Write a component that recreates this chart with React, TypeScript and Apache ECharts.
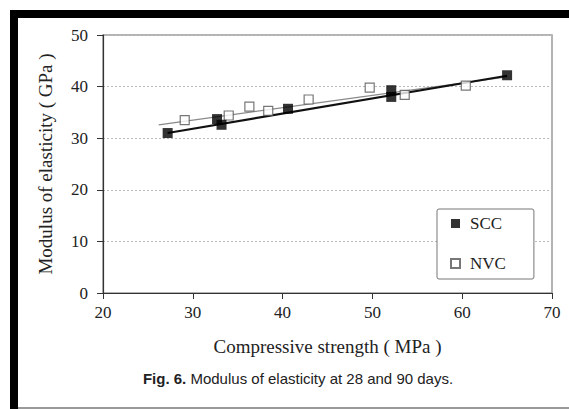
import React, { useEffect, useRef } from "react";
import * as echarts from "echarts";

const sccPoints: [number, number][] = [
  [27.2, 31.0],
  [32.7, 33.7],
  [33.2, 32.6],
  [40.6, 35.7],
  [52.1, 39.3],
  [52.1, 38.0],
  [65.0, 42.2],
];

const nvcPoints: [number, number][] = [
  [29.1, 33.5],
  [34.0, 34.4],
  [36.3, 36.1],
  [38.4, 35.3],
  [42.9, 37.5],
  [49.7, 39.8],
  [53.6, 38.4],
  [60.4, 40.2],
];

const sccTrend: [number, number][] = [
  [27.2, 31.0],
  [65.0, 42.1],
];

const nvcTrend: [number, number][] = [
  [26.2, 32.6],
  [65.0, 41.9],
];

const seriesNames = ["SCC", "NVC"];
const xAxisTitle = "Compressive strength ( MPa )";
const yAxisTitle = "Modulus of elasticity ( GPa )";
const caption = "Modulus of elasticity at 28 and 90 days.";
const captionLabel = "Fig. 6.";

const serif = "'Liberation Serif', 'DejaVu Serif', serif";
const narrow = "'Liberation Sans Narrow', 'Liberation Sans', sans-serif";

export default function App() {
  const ref = useRef<HTMLDivElement>(null);

  useEffect(() => {
    if (!ref.current) return;
    const chart = echarts.init(ref.current, null, { renderer: "svg" });
    chart.setOption({
      animation: false,
      backgroundColor: "#ffffff",
      grid: {
        left: 103,
        top: 35,
        right: 17,
        bottom: 116,
        show: true,
        borderColor: "#9a9a9a",
        borderWidth: 1.5,
        backgroundColor: "transparent",
      },
      xAxis: {
        type: "value",
        min: 20,
        max: 70,
        interval: 10,
        name: xAxisTitle,
        nameLocation: "middle",
        nameGap: 44,
        nameTextStyle: { fontFamily: serif, fontSize: 19, color: "#222" },
        axisLine: { show: true, onZero: false, lineStyle: { color: "#333", width: 1.2 } },
        axisTick: { show: true, inside: false, length: 6, lineStyle: { color: "#333" } },
        axisLabel: { margin: 11, fontFamily: serif, fontSize: 17, color: "#222" },
        splitLine: { show: false },
      },
      yAxis: {
        type: "value",
        min: 0,
        max: 50,
        interval: 10,
        name: yAxisTitle,
        nameLocation: "middle",
        nameGap: 48,
        nameTextStyle: { fontFamily: serif, fontSize: 19, color: "#222" },
        axisLine: { show: true, onZero: false, lineStyle: { color: "#333", width: 1.2 } },
        axisTick: { show: true, inside: false, length: 6, lineStyle: { color: "#333" } },
        axisLabel: { margin: 15, fontFamily: serif, fontSize: 17, color: "#222" },
        splitLine: { show: true, lineStyle: { color: "#bbbbbb", type: [2, 2], width: 1 } },
      },
      legend: {
        data: seriesNames,
        orient: "vertical",
        left: 437,
        top: 209,
        padding: [6, 28, 7, 13],
        itemGap: 23,
        itemWidth: 9,
        itemHeight: 9,
        backgroundColor: "#ffffff",
        borderColor: "#777",
        borderWidth: 1,
        borderRadius: 2,
        textStyle: { fontFamily: serif, fontSize: 17, color: "#222", padding: [0, 0, 0, 5] },
      },
      series: [
        {
          name: "SCC trend",
          type: "line",
          data: sccTrend,
          showSymbol: false,
          lineStyle: { color: "#111", width: 2.2 },
          z: 3,
        },
        {
          name: "NVC trend",
          type: "line",
          data: nvcTrend,
          showSymbol: false,
          lineStyle: { color: "#8a8a8a", width: 1.2 },
          z: 2,
        },
        {
          name: "NVC",
          type: "scatter",
          data: nvcPoints,
          symbol: "rect",
          symbolSize: 9,
          itemStyle: { color: "#ffffff", borderColor: "#555", borderWidth: 1.2 },
          z: 4,
        },
        {
          name: "SCC",
          type: "scatter",
          data: sccPoints,
          symbol: "rect",
          symbolSize: 10,
          itemStyle: { color: "#000000" },
          z: 5,
        },
      ],
      graphic: [
        { type: "rect", shape: { x: 10, y: 10, width: 559, height: 8 }, style: { fill: "#000" } },
        { type: "rect", shape: { x: 10, y: 10, width: 8, height: 399 }, style: { fill: "#000" } },
        { type: "rect", shape: { x: 18, y: 407, width: 551, height: 2 }, style: { fill: "#999" } },
        {
          type: "text",
          x: 298,
          y: 378,
          style: {
            text: "{b|" + captionLabel + "} " + caption,
            fontFamily: narrow,
            fontSize: 15,
            fill: "#222",
            align: "center",
            verticalAlign: "middle",
            rich: {
              b: { fontFamily: narrow, fontSize: 15, fontWeight: "bold", fill: "#222" },
            },
          },
        },
      ],
    });
    return () => chart.dispose();
  }, []);

  return (
    <div
      ref={ref}
      style={{ position: "absolute", left: 0, top: 0, width: 569, height: 409 }}
    />
  );
}
